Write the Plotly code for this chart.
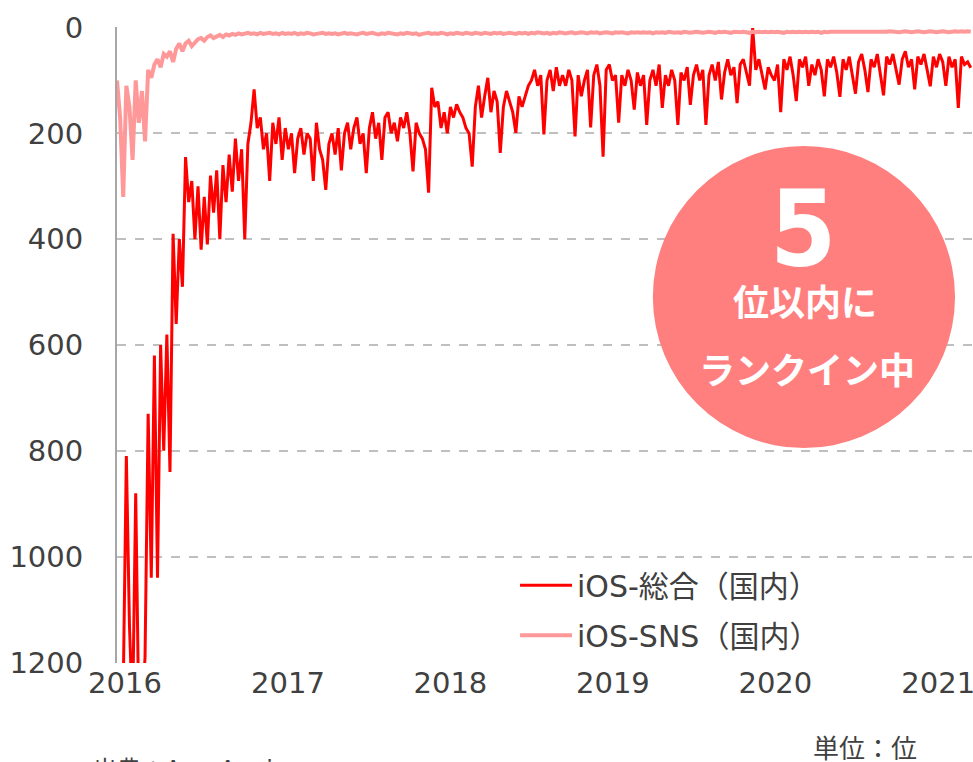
import pandas as pd
import plotly.graph_objects as go

# weekly ranking samples (rank 1 = top)
dates = pd.date_range("2015-12-14", periods=275, freq="7D")

rank_total = [
    1300, 1300, 1250, 810, 1130, 1300, 880, 1300, 1300, 1190,
    730, 1040, 620, 1040, 600, 800, 580, 840, 390, 560,
    400, 490, 245, 330, 290, 400, 300, 420, 320, 410,
    280, 350, 270, 400, 260, 330, 240, 310, 210, 290,
    230, 400, 220, 180, 117, 190, 170, 230, 200, 290,
    180, 220, 170, 250, 190, 230, 200, 275, 210, 190,
    240, 200, 210, 290, 180, 230, 250, 307, 220, 200,
    240, 190, 270, 200, 180, 230, 190, 170, 220, 200,
    275, 190, 160, 210, 180, 250, 170, 160, 200, 180,
    215, 170, 190, 160, 200, 272, 180, 200, 210, 230,
    312, 114, 150, 140, 190, 160, 200, 150, 170, 145,
    160, 170, 190, 200, 263, 150, 110, 170, 130, 95,
    160, 120, 140, 237, 150, 120, 140, 160, 199, 130,
    150, 130, 110, 100, 80, 110, 90, 202, 100, 80,
    120, 75, 110, 90, 110, 80, 100, 206, 90, 130,
    100, 80, 189, 90, 70, 110, 244, 80, 70, 100,
    90, 180, 90, 110, 80, 100, 155, 85, 110, 90,
    184, 100, 80, 110, 70, 152, 90, 110, 80, 100,
    184, 85, 100, 75, 146, 90, 70, 100, 80, 184,
    90, 70, 100, 65, 136, 85, 60, 90, 75, 143,
    70, 60, 85, 110, 1, 80, 60, 90, 117, 75,
    90, 100, 70, 160, 60, 80, 55, 90, 139, 60,
    75, 55, 110, 70, 90, 60, 80, 130, 60, 75,
    55, 85, 131, 60, 80, 55, 90, 125, 65, 50,
    80, 122, 60, 75, 50, 85, 128, 55, 70, 50,
    80, 108, 60, 45, 75, 60, 117, 55, 70, 50,
    80, 111, 55, 75, 50, 65, 110, 55, 75, 60,
    152, 55, 70, 65, 76,
]

rank_sns = [
    100, 170, 320, 110, 150, 250, 100, 180, 120, 215,
    80, 95, 70, 60, 75, 50, 55, 45, 65, 40,
    30, 45, 30, 25, 35, 28, 22, 20, 25, 18,
    15, 20, 16, 14, 18, 13, 15, 12, 14, 11,
    13, 12, 10, 12, 11, 13, 10, 12, 11, 10,
    12, 11, 13, 10, 12, 11, 12, 10, 13, 11,
    12, 10, 11, 13, 12, 11, 10, 12, 11, 12,
    11, 13, 12, 10, 12, 11, 12, 13, 11, 10,
    12, 11, 10, 12, 13, 11, 12, 10, 11, 12,
    13, 11, 12, 10, 11, 12, 11, 14, 12, 11,
    10, 12, 11, 12, 10, 11, 13, 11, 12, 10,
    11, 12, 10, 11, 12, 10, 11, 12, 10, 11,
    12, 10, 11, 10, 12, 11, 10, 11, 12, 10,
    11, 10, 12, 10, 11, 9, 10, 11, 10, 12,
    10, 11, 9, 10, 11, 10, 9, 11, 10, 9,
    10, 11, 9, 10, 9, 11, 10, 9, 10, 11,
    9, 10, 9, 10, 11, 9, 10, 9, 10, 9,
    10, 9, 11, 9, 10, 9, 10, 8, 9, 10,
    9, 10, 8, 9, 10, 9, 8, 9, 10, 9,
    8, 9, 10, 8, 9, 8, 9, 10, 8, 9,
    9, 8, 9, 10, 8, 9, 8, 9, 8, 9,
    8, 9, 8, 9, 10, 8, 9, 8, 9, 8,
    9, 8, 9, 8, 9, 8, 10, 8, 9, 8,
    8, 9, 8, 9, 8, 9, 8, 9, 8, 9,
    9, 8, 9, 8, 9, 8, 9, 8, 7, 8,
    8, 9, 8, 7, 8, 9, 8, 7, 8, 9,
    8, 7, 8, 9, 8, 7, 8, 9, 8, 7,
    8, 7, 8, 7, 8,
]

year_ticks = ["2016-01-01", "2017-01-01", "2018-01-01", "2019-01-01", "2020-01-01", "2021-01-01"]
year_labels = ["2016", "2017", "2018", "2019", "2020", "2021"]

font_main = "DejaVu Sans, Noto Sans CJK JP, sans-serif"
font_jp_bold = "Noto Sans CJK JP, sans-serif"

fig = go.Figure()
fig.add_trace(go.Scatter(
    x=dates, y=rank_total, mode="lines", name="iOS-総合（国内）",
    line=dict(color="#FF0000", width=3), legendgroup="a",
))
fig.add_trace(go.Scatter(
    x=dates, y=rank_sns, mode="lines", name="iOS-SNS（国内）",
    line=dict(color="#FF9999", width=4), legendgroup="b",
))

# badge circle
fig.add_shape(type="circle", xref="paper", yref="paper",
              x0=0.626, x1=0.979, y0=0.338, y1=0.813,
              fillcolor="#FF7F7F", line=dict(width=0), layer="above")

fig.add_annotation(xref="paper", yref="paper", x=0.801, y=0.682, text="5",
                   xanchor="center", yanchor="middle", showarrow=False,
                   font=dict(family="Liberation Sans Narrow, DejaVu Sans Condensed",
                             size=106, color="white", weight="bold"))
fig.add_annotation(xref="paper", yref="paper", x=0.804, y=0.571, text="位以内に",
                   xanchor="center", yanchor="middle", showarrow=False,
                   font=dict(family=font_jp_bold, size=36, color="white", weight="bold"))
fig.add_annotation(xref="paper", yref="paper", x=0.806, y=0.464, text="ランクイン中",
                   xanchor="center", yanchor="middle", showarrow=False,
                   font=dict(family=font_jp_bold, size=36, color="white", weight="bold"))

fig.add_annotation(xref="paper", yref="paper", x=-0.03, y=-0.143, xanchor="left", yanchor="top",
                   text="出典：App Annie", showarrow=False,
                   font=dict(family=font_main, size=24, color="#404040"))
fig.add_annotation(xref="paper", yref="paper", x=0.874, y=-0.135, xanchor="center", yanchor="middle",
                   text="単位：位", showarrow=False,
                   font=dict(family=font_main, size=26, color="#404040"))

fig.update_layout(
    width=973, height=762,
    margin=dict(l=117, r=0, t=27, b=99),
    paper_bgcolor="white", plot_bgcolor="white",
    font=dict(family=font_main, size=29, color="#404040"),
    showlegend=True,
    legend=dict(x=0.465, y=0.163, xanchor="left", yanchor="top",
                font=dict(family=font_main, size=30, color="#404040"),
                bgcolor="rgba(0,0,0,0)", tracegroupgap=8, itemwidth=52),
)
fig.update_xaxes(
    type="date", range=["2015-12-14", "2021-03-20"],
    tickvals=year_ticks, ticktext=year_labels, automargin=False,
    ticklabeloverflow="allow",
    showgrid=False, showline=False, zeroline=False,
    tickfont=dict(size=29, color="#404040"),
)
fig.update_yaxes(
    range=[1201, -1], tickvals=[0, 200, 400, 600, 800, 1000, 1200], automargin=False,
    showgrid=True, gridcolor="#BFBFBF", griddash="dash", gridwidth=1.5,
    showline=True, linecolor="#A6A6A6", linewidth=2, zeroline=False,
    ticklabelstandoff=26, tickfont=dict(size=29, color="#404040"),
)

# page body has a default 8px margin; drop it so the figure sits at the corner
fig.write_html("out.html", config={"displayModeBar": False},
               post_script="document.body.style.margin='0';document.body.style.overflow='hidden';")
